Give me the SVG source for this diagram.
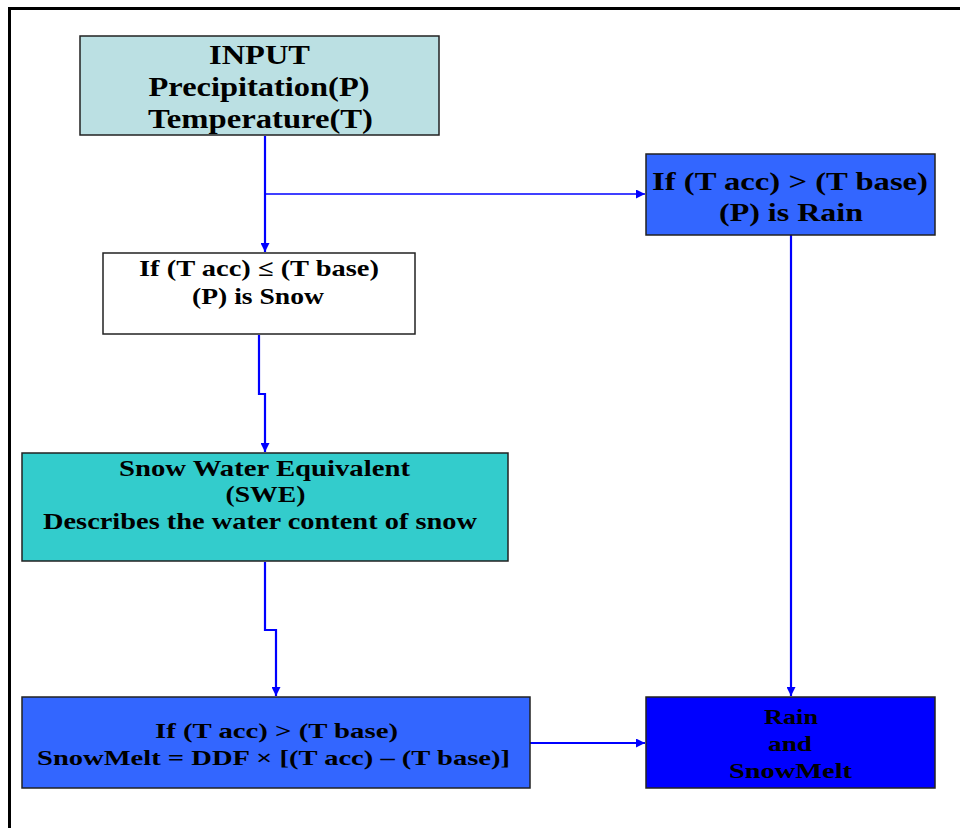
<svg xmlns="http://www.w3.org/2000/svg" width="960" height="828" viewBox="0 0 960 828">
<style>
.box{stroke:#222;stroke-width:1.5}
.t{font-family:"Liberation Serif","Times New Roman",serif;font-weight:bold;fill:#000;text-anchor:middle}
.c{fill:none;stroke:#0000FF;stroke-width:2.2}
.c1{fill:none;stroke:#0000FF;stroke-width:1.6}
</style>
<defs>
<marker id="ah" viewBox="0 0 10 10" refX="10" refY="5" markerWidth="9" markerHeight="9" markerUnits="userSpaceOnUse" orient="auto">
<path d="M0,0 L10,5 L0,10 z" fill="#0000FF"/>
</marker>
</defs>
<rect x="0" y="0" width="960" height="828" fill="#fff"/>
<path d="M9.5,828 V8.5 H962" fill="none" stroke="#000" stroke-width="3"/>

<g id="connectors">
<path class="c" d="M265,136 V252" marker-end="url(#ah)"/>
<path class="c1" d="M265,194 H645" marker-end="url(#ah)"/>
<path class="c" d="M259,335 V394 H265 V452" marker-end="url(#ah)"/>
<path class="c" d="M265,562 V630 H276 V696" marker-end="url(#ah)"/>
<path class="c" d="M791,235 V696" marker-end="url(#ah)"/>
<path class="c" d="M530,743 H645" marker-end="url(#ah)"/>
</g>

<g id="input">
<rect class="box" x="80" y="36" width="359" height="99" fill="#BBE0E3"/>
<text class="t" font-size="28" x="259.5" y="64" textLength="101" lengthAdjust="spacingAndGlyphs">INPUT</text>
<text class="t" font-size="28" x="259" y="96" textLength="221" lengthAdjust="spacingAndGlyphs">Precipitation(P)</text>
<text class="t" font-size="28" x="260.5" y="128" textLength="225" lengthAdjust="spacingAndGlyphs">Temperature(T)</text>
</g>

<g id="rain">
<rect class="box" x="646" y="154" width="289" height="81" fill="#3366FF"/>
<text class="t" font-size="25" x="790" y="190" textLength="276" lengthAdjust="spacingAndGlyphs">If (T acc) &gt; (T base)</text>
<text class="t" font-size="25" x="791" y="221" textLength="144" lengthAdjust="spacingAndGlyphs">(P) is Rain</text>
</g>

<g id="snow">
<rect class="box" x="103" y="253" width="312" height="81" fill="#FFFFFF"/>
<text class="t" font-size="23" x="259" y="276" textLength="240" lengthAdjust="spacingAndGlyphs">If (T acc) ≤ (T base)</text>
<text class="t" font-size="23" x="258" y="304" textLength="132" lengthAdjust="spacingAndGlyphs">(P) is Snow</text>
</g>

<g id="swe">
<rect class="box" x="22" y="453" width="486" height="108" fill="#33CCCC"/>
<text class="t" font-size="23" x="264.5" y="476" textLength="291" lengthAdjust="spacingAndGlyphs">Snow Water Equivalent</text>
<text class="t" font-size="23" x="265.5" y="502" textLength="80" lengthAdjust="spacingAndGlyphs">(SWE)</text>
<text class="t" font-size="23" x="260" y="529" textLength="434" lengthAdjust="spacingAndGlyphs">Describes the water content of snow</text>
</g>

<g id="snowmelt">
<rect class="box" x="22" y="697" width="508" height="91" fill="#3366FF"/>
<text class="t" font-size="22" x="276.5" y="738" textLength="243" lengthAdjust="spacingAndGlyphs">If (T acc) &gt; (T base)</text>
<text class="t" font-size="22" x="273.5" y="765" textLength="473" lengthAdjust="spacingAndGlyphs">SnowMelt = DDF × [(T acc) – (T base)]</text>
</g>

<g id="rain-snowmelt">
<rect class="box" x="646" y="697" width="289" height="91" fill="#0000FF"/>
<text class="t" font-size="22" x="791" y="724" textLength="54" lengthAdjust="spacingAndGlyphs">Rain</text>
<text class="t" font-size="22" x="790" y="751" textLength="44" lengthAdjust="spacingAndGlyphs">and</text>
<text class="t" font-size="22" x="790.5" y="778" textLength="123" lengthAdjust="spacingAndGlyphs">SnowMelt</text>
</g>
</svg>
